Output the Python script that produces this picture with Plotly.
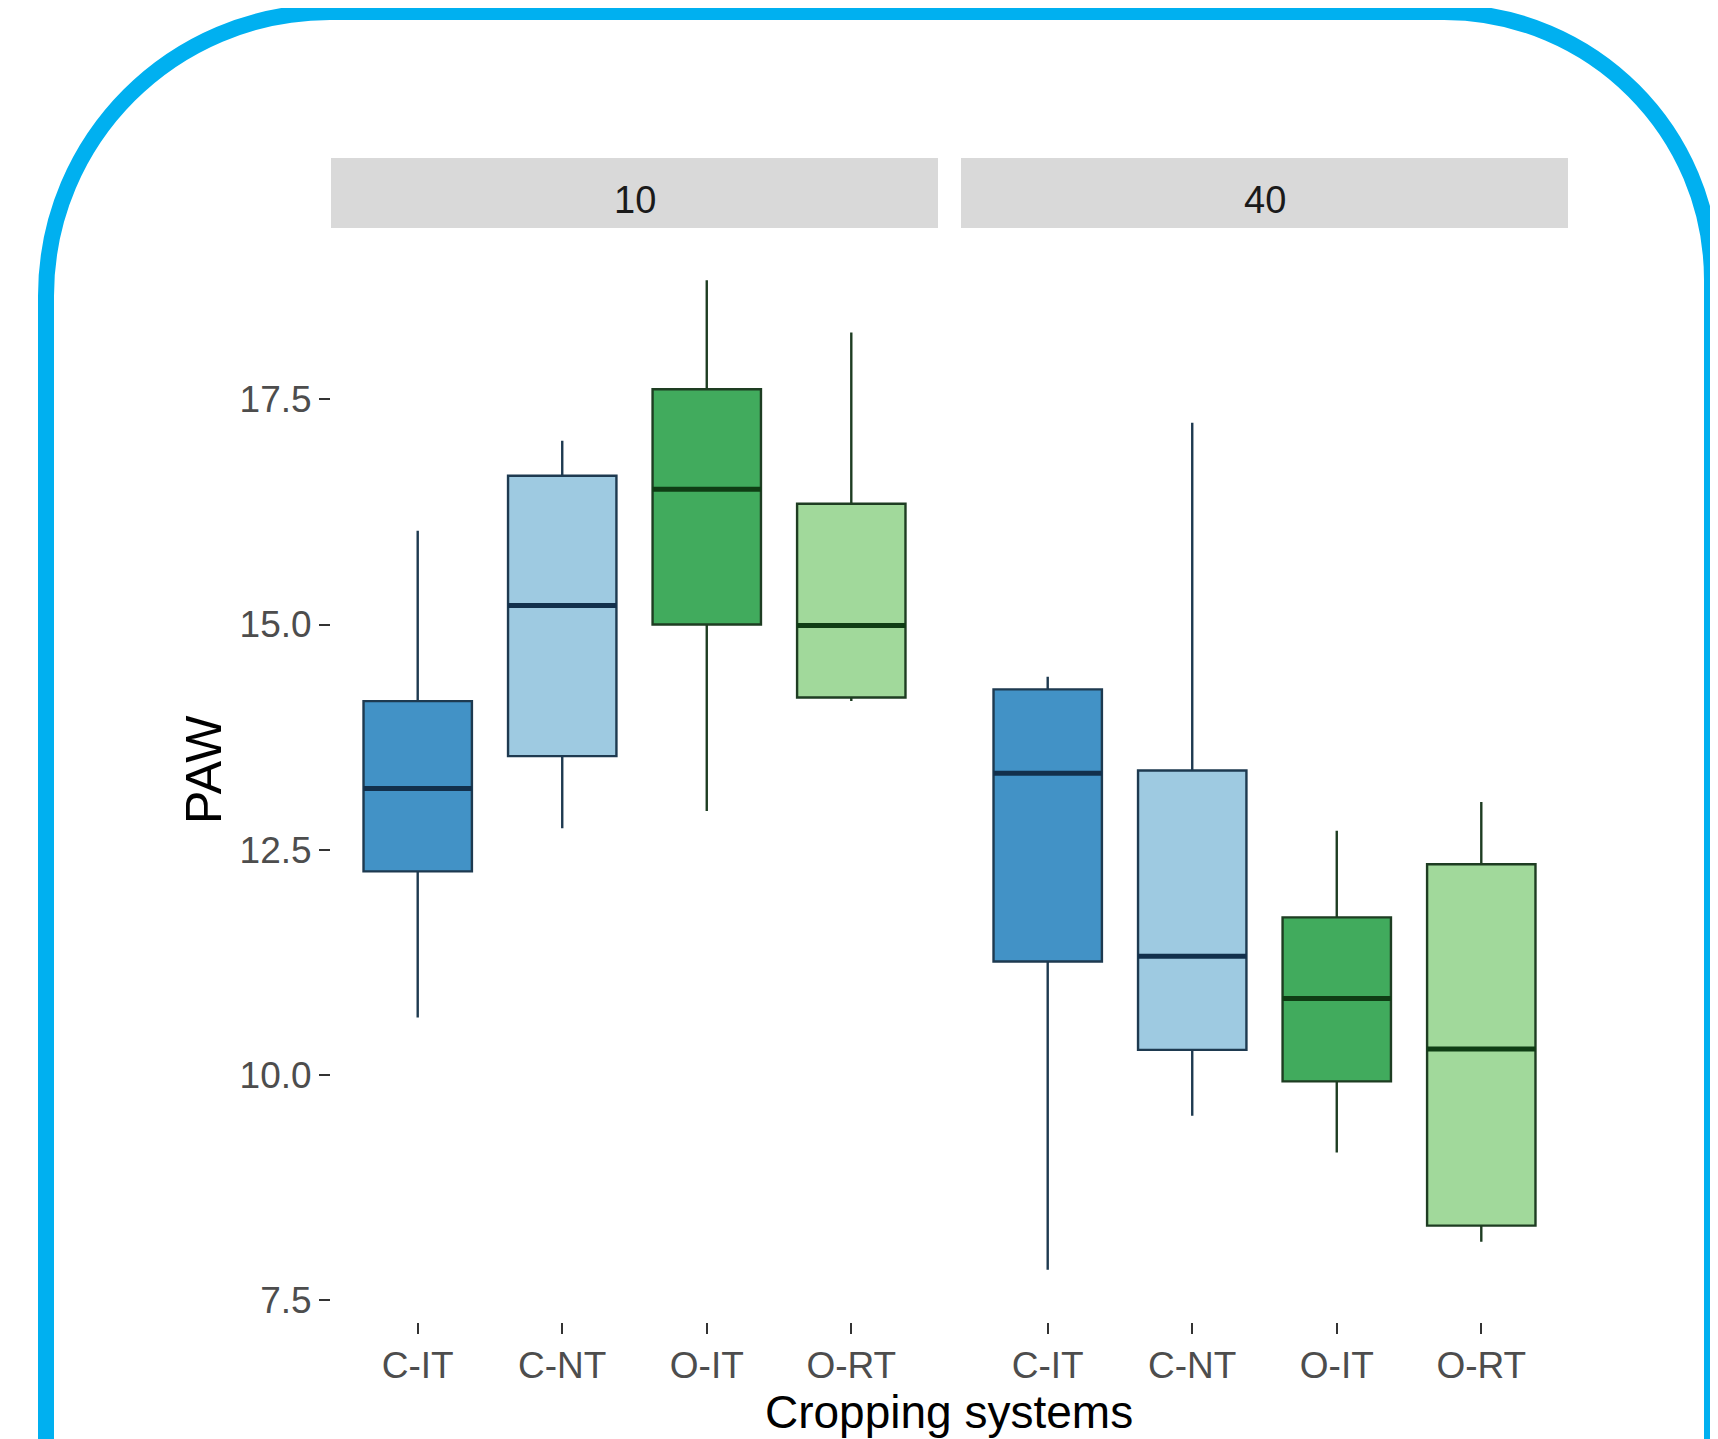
import plotly.graph_objects as go

# ---------------- data ----------------
categories = ["C-IT", "C-NT", "O-IT", "O-RT"]
depths = ["10", "40"]

# depth 10
lower_10  = [10.64, 12.74, 12.93, 14.15]
q1_10     = [12.26, 13.54, 15.00, 14.19]
median_10 = [13.18, 15.21, 16.50, 14.99]
q3_10     = [14.15, 16.65, 17.61, 16.34]
upper_10  = [16.04, 17.04, 18.82, 18.24]

# depth 40
lower_40  = [7.84, 9.55, 9.14, 8.15]
q1_40     = [11.26, 10.28, 9.93, 8.33]
median_40 = [13.35, 11.32, 10.85, 10.29]
q3_40     = [14.28, 13.38, 11.75, 12.34]
upper_40  = [14.42, 17.24, 12.71, 13.03]

y_ticks = [7.5, 10.0, 12.5, 15.0, 17.5]
y_tick_labels = ["7.5", "10.0", "12.5", "15.0", "17.5"]

fill_colors = ["#4292C6", "#9ECAE1", "#41AB5D", "#A1D99B"]
line_colors = ["#1E3A50", "#1E3A50", "#1E3D22", "#1E3D22"]
median_colors = ["#12304C", "#12304C", "#0F3D14", "#0F3D14"]

# ---------------- layout geometry (page pixels) ----------------
W, H = 1718, 1439
OFF = 8  # default page body margin
def px(x):
    return (x - OFF) / W
def py(y):
    return 1 - (y - OFF) / H

panel_top, panel_bottom = 228, 1322
p1 = (331, 938)
p2 = (961, 1568)
strip_top = 158

fig = go.Figure()

panels = [
    ("x", "y", lower_10, q1_10, median_10, q3_10, upper_10),
    ("x2", "y2", lower_40, q1_40, median_40, q3_40, upper_40),
]
box_w = 0.75
for xa, ya, lo, q1, med, q3, up in panels:
    for i, cat in enumerate(categories):
        xpos = i + 1
        fig.add_trace(go.Box(
            x=[xpos], q1=[q1[i]], median=[med[i]], q3=[q3[i]],
            lowerfence=[lo[i]], upperfence=[up[i]],
            width=box_w, whiskerwidth=0,
            fillcolor=fill_colors[i],
            line=dict(color=line_colors[i], width=2.4),
            boxpoints=False, showlegend=False, name=cat,
            xaxis=xa, yaxis=ya,
        ))
        fig.add_trace(go.Scatter(
            x=[xpos - box_w / 2, xpos + box_w / 2], y=[med[i], med[i]],
            mode="lines", line=dict(color=median_colors[i], width=5),
            showlegend=False, hoverinfo="skip", xaxis=xa, yaxis=ya,
        ))

font_family = "Liberation Sans, Arial, sans-serif"
xaxis_common = dict(
    range=[0.4, 4.6], tickvals=[1, 2, 3, 4], ticktext=categories,
    showgrid=False, zeroline=False, showline=False,
    ticks="outside", ticklen=11, tickwidth=2, tickcolor="#333333",
    tickfont=dict(family=font_family, size=37, color="#4D4D4D"),
    fixedrange=True,
)
y_range = [7.26, 19.40]

fig.update_layout(
    width=W, height=H,
    margin=dict(l=0, r=0, t=0, b=0),
    paper_bgcolor="white", plot_bgcolor="white",
    showlegend=False,
    xaxis=dict(domain=[px(p1[0]), px(p1[1])], anchor="y", **xaxis_common),
    xaxis2=dict(domain=[px(p2[0]), px(p2[1])], anchor="y2", **xaxis_common),
    yaxis=dict(
        domain=[py(panel_bottom), py(panel_top)], range=y_range, anchor="x",
        tickvals=y_ticks, ticktext=y_tick_labels,
        showgrid=False, zeroline=False, showline=False,
        ticks="outside", ticklen=11, tickwidth=2, tickcolor="#333333",
        tickfont=dict(family=font_family, size=37, color="#4D4D4D"),
    ),
    yaxis2=dict(
        domain=[py(panel_bottom), py(panel_top)], range=y_range, anchor="x2",
        matches="y", showticklabels=False, ticks="",
        showgrid=False, zeroline=False, showline=False,
    ),
)

# facet strips
shapes = []
annotations = []
for (x0, x1), lab in zip([p1, p2], depths):
    shapes.append(dict(
        type="rect", xref="paper", yref="paper",
        x0=px(x0), x1=px(x1), y0=py(panel_top), y1=py(strip_top),
        fillcolor="#D9D9D9", line=dict(width=0), layer="below",
    ))
    annotations.append(dict(
        x=px((x0 + x1) / 2), y=py((panel_top + strip_top) / 2 + 7),
        xref="paper", yref="paper", text=lab, showarrow=False,
        font=dict(family=font_family, size=38, color="#1A1A1A"),
        xanchor="center", yanchor="middle",
    ))

# axis titles
annotations.append(dict(
    x=px(949), y=py(1412), xref="paper", yref="paper",
    text="Cropping systems", showarrow=False,
    font=dict(family=font_family, size=46, color="#000000"),
    xanchor="center", yanchor="middle",
))
annotations.append(dict(
    x=px(204), y=py(770), xref="paper", yref="paper",
    text="PAW", showarrow=False, textangle=-90,
    font=dict(family=font_family, size=50, color="#000000"),
    xanchor="center", yanchor="middle",
))

# rounded frame border
k = 0.5523
L, T, R, B = 46, 12, 1712, 1480
r1, r2 = 284, 268
pts = [
    ("M", [(L, B)]),
    ("L", [(L, T + r1)]),
    ("C", [(L, T + r1 - k * r1), (L + r1 - k * r1, T), (L + r1, T)]),
    ("L", [(R - r2, T)]),
    ("C", [(R - r2 + k * r2, T), (R, T + r2 - k * r2), (R, T + r2)]),
    ("L", [(R, B)]),
]
path = " ".join(
    cmd + " " + " ".join(f"{px(x):.5f},{py(y):.5f}" for x, y in p)
    for cmd, p in pts
)
shapes.append(dict(
    type="path", xref="paper", yref="paper", path=path,
    line=dict(color="#00B0F0", width=16), layer="above",
))

fig.update_layout(shapes=shapes, annotations=annotations)

fig.write_html("out.html")
